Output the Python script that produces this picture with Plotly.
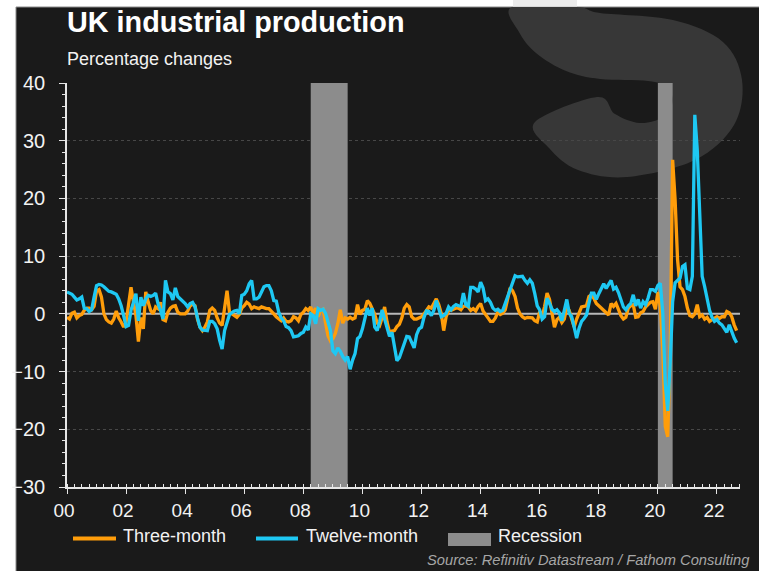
import plotly.graph_objects as go

# ---------------- data (monthly, from Jan 2000) ----------------
START_YEAR = 2000

three_month = [
    -0.6, -0.9, 0.1, 0.3, -0.7, -0.3, -0.1, 0.6, 1.0, 1.0, 0.7, 1.3,      # 2000
    4.0, 4.2, 2.9, 0.0, -1.0, -1.4, -1.6, -0.9, 0.5, -0.7, -1.4, -2.3,    # 2001
    -1.4, 1.4, 4.6, 2.0, -0.3, -4.8, -0.6, -2.6, 3.8, 2.0, 0.6, 0.0,      # 2002
    1.2, 0.9, 2.0, -1.0, -1.2, 0.3, 1.0, 1.3, 1.4, 0.3, 0.0, 0.0,         # 2003
    0.0, 0.5, 1.4, 1.7, 1.4, -0.9, -2.3, -2.9, -2.3, -1.4, 0.6, 1.0,      # 2004
    0.6, -0.7, -1.6, -2.0, 0.6, 4.0, 0.3, 0.0, -0.3, -0.6, -0.1, 1.0,     # 2005
    1.4, 2.0, 1.7, 0.9, 1.2, 1.0, 0.9, 1.2, 1.0, 0.9, 0.9, 0.5,           # 2006
    0.0, -0.5, -0.9, -1.2, -0.7, -1.3, -1.4, -1.2, -0.5, -0.7, -1.2, -0.1,  # 2007
    0.3, 0.9, 0.6, 1.2, 0.0, 1.0, -0.5, 0.6, 0.8, -1.4, -3.8, -4.7,       # 2008
    -4.3, -3.4, -1.7, 0.7, -1.6, -0.7, -0.9, -0.6, -0.9, -0.7, 1.6, -0.1,  # 2009
    0.6, 0.8, 2.3, 1.8, 0.7, -0.1, -1.6, -2.0, -0.7, 1.2, -1.4, -3.2,     # 2010
    -3.0, -2.9, -2.2, -1.8, -0.7, 1.0, 1.6, 1.2, -0.5, -0.9, -0.9, -0.7,  # 2011
    -0.5, 0.0, 0.5, 1.2, 1.0, 1.8, 2.6, 1.6, 0.1, -2.9, -0.5, 0.6,        # 2012
    0.6, 0.8, 1.0, 1.0, 0.7, 1.3, 1.4, 1.2, 0.6, 0.9, 0.5, 1.3,           # 2013
    1.8, 0.5, 0.0, -0.7, -1.3, -1.3, -0.7, 0.3, -0.1, 0.1, 0.7, 2.6,      # 2014
    4.5, 4.0, 3.0, 1.0, 0.0, -0.5, -0.8, -0.6, -0.6, -0.7, -1.2, -1.4,    # 2015
    0.4, -0.5, 1.3, 3.6, 2.5, 0.2, -2.3, -1.0, -0.6, -1.5, -0.9, 1.2,     # 2016
    0.6, -0.9, -2.3, -0.9, 0.2, 1.2, 1.3, 1.4, 3.0, 3.3, 2.7, 1.8,        # 2017
    1.4, 1.0, 0.6, 0.2, -0.2, 1.8, 1.3, 1.8, 0.6, -0.3, -0.9, -0.6,       # 2018
    1.0, 1.4, 1.6, -0.6, -0.5, 0.2, 0.4, 1.2, 1.6, 2.0, 2.1, 0.8,         # 2019
    3.8, 1.3, -6.2, -19.5, -21.3, -7.0, 26.7, 19.8, 9.4, 4.7, 4.2, 3.0,   # 2020
    1.0, -0.3, -0.5, 0.0, 1.6, -0.5, -0.2, -0.9, -0.6, -1.3, -1.0, -0.8,  # 2021
    -0.5, -0.8, -0.5, -0.5, 0.4, 0.2, -0.5, -1.9, -2.9,                   # 2022
]

twelve_month = [
    3.8, 3.6, 3.4, 2.9, 2.4, 2.6, 2.9, 1.0, 0.9, 0.4, 0.7, 2.9,           # 2000
    4.9, 5.1, 5.0, 4.7, 4.3, 3.9, 3.8, 3.6, 3.4, 2.6, 1.4, -0.3,          # 2001
    -2.2, -2.0, 0.6, 2.0, 3.5, -1.2, 2.9, 1.4, 2.6, 3.2, 3.0, 3.2,        # 2002
    3.6, 1.7, 0.6, -0.9, 5.8, 3.8, 3.5, 2.4, 4.5, 3.0, 2.6, 2.3,          # 2003
    1.8, 1.2, 1.8, 2.0, 1.2, -0.7, -2.3, -2.8, -2.9, -2.9, -1.3, -1.3,    # 2004
    -1.7, -2.6, -4.6, -6.1, -2.9, -1.3, -0.1, 0.2, 0.5, 0.6, 0.0, 3.2,    # 2005
    3.4, 4.0, 5.2, 5.8, 2.6, 2.6, 2.9, 3.8, 4.7, 4.9, 4.9, 4.0,           # 2006
    2.3, 2.2, 0.3, -0.7, -1.2, -2.2, -2.4, -2.9, -4.0, -3.9, -3.8, -3.4,  # 2007
    -3.2, -2.3, -2.8, 0.0, -0.3, -1.7, 0.9, 0.6, 0.8, 0.1, -1.3, -2.9,    # 2008
    -6.4, -6.9, -5.9, -6.5, -7.4, -8.0, -7.4, -9.6, -8.0, -6.9, -4.3, -3.9,  # 2009
    -2.6, -0.7, 1.0, -0.3, 1.0, -2.3, -2.9, -1.3, 0.7, -0.9, -2.3, -3.9,  # 2010
    -3.2, -6.1, -8.1, -7.6, -6.4, -4.9, -3.9, -4.0, -4.9, -5.9, -3.6, -2.6,  # 2011
    -2.3, -0.6, 0.5, 0.4, -0.3, 0.6, 2.3, 0.7, -0.5, -0.3, 0.1, 1.2,      # 2012
    0.7, 1.3, 1.6, 1.4, 1.3, 3.6, 1.6, 1.3, 4.6, 4.6, 4.3, 3.8,           # 2013
    5.5, 4.5, 2.3, 2.6, 2.0, 1.0, 0.6, 0.8, 0.4, 0.6, 1.8, 3.0,           # 2014
    4.2, 5.8, 6.6, 6.4, 6.4, 6.5, 5.8, 5.3, 5.9, 5.3, 3.5, 1.4,           # 2015
    0.7, -0.9, -0.5, 2.7, 1.8, 0.8, 0.4, 0.7, 0.2, -1.2, 0.6, 2.5,        # 2016
    0.1, -0.5, -2.3, -4.2, -2.5, -1.3, -0.8, -0.2, 1.8, 3.6, 3.6, 2.5,    # 2017
    3.5, 4.3, 5.2, 4.4, 5.0, 5.8, 4.3, 4.6, 3.7, 2.3, 1.2, 0.7,           # 2018
    1.4, 1.8, 3.3, 1.4, 2.5, 1.0, 2.1, 1.6, 2.7, 4.2, 4.2, 3.9,           # 2019
    4.9, 5.3, 0.1, -12.0, -16.8, -8.6, 2.1, 5.4, 5.8, 6.2, 8.2, 8.5,      # 2020
    4.4, 4.2, 6.5, 34.5, 28.4, 15.7, 6.5, 4.7, 2.4, 0.6, -0.6, -1.3,      # 2021
    -1.0, -1.6, -1.9, -2.5, -3.2, -1.9, -3.1, -4.2, -5.0,                 # 2022
]

recession_start = [2008.25, 2020.0]
recession_end = [2009.5, 2020.5]

tick_years = list(range(2000, 2023, 2))
tick_labels = ["00", "02", "04", "06", "08", "10", "12", "14", "16", "18", "20", "22"]

series_names = ["Three-month", "Twelve-month", "Recession"]
title_text = "UK industrial production"
subtitle_text = "Percentage changes"
source_text = "Source: Refinitiv Datastream / Fathom Consulting"

# ---------------- style ----------------
ORANGE = "#FF9D0A"
BLUE = "#1EC8F3"
REC_GREY = "#8C8C8C"
BG = "#1A1A1A"
FONT = "Liberation Sans, Arial, sans-serif"

W, H = 759, 571
L, R, T, B = 67, 740, 83, 487
X_END = 2022.78


def px(x):
    return (x - L) / (R - L)


def py(y):
    return (B - y) / (B - T)


def smooth_closed_path(pts, straight_first=True):
    """Catmull-Rom smoothed closed outline, converted to paper coordinates."""
    n = len(pts)
    out = [f"M {px(pts[0][0]):.4f},{py(pts[0][1]):.4f}"]
    for i in range(n):
        p0 = pts[(i - 1) % n]
        p1 = pts[i]
        p2 = pts[(i + 1) % n]
        p3 = pts[(i + 2) % n]
        if straight_first and i == 0:
            out.append(f"L {px(p2[0]):.4f},{py(p2[1]):.4f}")
            continue
        c1 = (p1[0] + (p2[0] - p0[0]) / 6, p1[1] + (p2[1] - p0[1]) / 6)
        c2 = (p2[0] - (p3[0] - p1[0]) / 6, p2[1] - (p3[1] - p1[1]) / 6)
        out.append(f"C {px(c1[0]):.4f},{py(c1[1]):.4f} {px(c2[0]):.4f},{py(c2[1]):.4f} "
                   f"{px(p2[0]):.4f},{py(p2[1]):.4f}")
    return " ".join(out) + " Z"


months = [START_YEAR + i / 12 for i in range(len(three_month))]

fig = go.Figure()
fig.add_trace(go.Scatter(x=months, y=three_month, mode="lines", name=series_names[0],
                         line=dict(color=ORANGE, width=3.3), hoverinfo="skip"))
fig.add_trace(go.Scatter(x=months, y=twelve_month, mode="lines", name=series_names[1],
                         line=dict(color=BLUE, width=3.3), hoverinfo="skip"))

shapes = []
# dark card behind everything
shapes.append(dict(type="rect", xref="paper", yref="paper", layer="below",
                   x0=px(16), x1=px(W + 5), y0=py(7), y1=py(H + 5),
                   fillcolor=BG, line=dict(color="#8a8a8a", width=1)))
# "S" watermark
s_pts = [(512, 7), (577, 7), (600, 13), (673, 20), (723, 42), (742, 80), (734, 125),
         (695, 160), (627, 177), (578, 170), (549, 148), (535, 122), (597, 97),
         (615, 114), (640, 123), (663, 117), (673, 101), (666, 87), (648, 81),
         (600, 79), (566, 71), (536, 53), (519, 32)]
shapes.append(dict(type="path", xref="paper", yref="paper", layer="below",
                   path=smooth_closed_path(s_pts),
                   fillcolor="#373737", line=dict(width=0)))
shapes.append(dict(type="rect", xref="paper", yref="paper", layer="below",
                   x0=px(513), x1=px(577), y0=py(0), y1=py(6.5),
                   fillcolor="#ececec", line=dict(width=0)))
# zero line
shapes.append(dict(type="line", xref="x", yref="y", layer="between",
                   x0=START_YEAR, x1=X_END, y0=0, y1=0,
                   line=dict(color="#b8b8b8", width=2)))
# recessions
for s, e in zip(recession_start, recession_end):
    shapes.append(dict(type="rect", xref="x", yref="y", layer="between",
                       x0=s, x1=e, y0=-30, y1=40,
                       fillcolor=REC_GREY, line=dict(width=0)))
# manual legend keys
shapes.append(dict(type="line", xref="paper", yref="paper", x0=px(73), x1=px(116),
                   y0=py(538.5), y1=py(538.5), line=dict(color=ORANGE, width=4)))
shapes.append(dict(type="line", xref="paper", yref="paper", x0=px(256), x1=px(298),
                   y0=py(538.5), y1=py(538.5), line=dict(color=BLUE, width=4)))
shapes.append(dict(type="rect", xref="paper", yref="paper", x0=px(448), x1=px(491),
                   y0=py(546), y1=py(533), fillcolor=REC_GREY, line=dict(width=0)))

annotations = [
    dict(text="<b>" + title_text + "</b>", x=px(65), y=py(22), xref="paper", yref="paper",
         xanchor="left", yanchor="middle", showarrow=False,
         font=dict(family=FONT, size=28.8, color="#ffffff")),
    dict(text=subtitle_text, x=px(65), y=py(59), xref="paper", yref="paper",
         xanchor="left", yanchor="middle", showarrow=False,
         font=dict(family=FONT, size=18, color="#f2f2f2")),
    dict(text=series_names[0], x=px(121), y=py(536), xref="paper", yref="paper",
         xanchor="left", yanchor="middle", showarrow=False,
         font=dict(family=FONT, size=18, color="#f2f2f2")),
    dict(text=series_names[1], x=px(304), y=py(536), xref="paper", yref="paper",
         xanchor="left", yanchor="middle", showarrow=False,
         font=dict(family=FONT, size=18, color="#f2f2f2")),
    dict(text=series_names[2], x=px(496), y=py(536), xref="paper", yref="paper",
         xanchor="left", yanchor="middle", showarrow=False,
         font=dict(family=FONT, size=18, color="#f2f2f2")),
    dict(text="<i>" + source_text + "</i>", x=px(752), y=py(560), xref="paper", yref="paper",
         xanchor="right", yanchor="middle", showarrow=False,
         font=dict(family=FONT, size=14.7, color="#a6a6a6")),
]

AX = "#e6e6e6"
fig.update_layout(
    width=W, height=H,
    margin=dict(l=L, r=W - R, t=T, b=H - B, pad=0),
    paper_bgcolor="#ffffff",
    plot_bgcolor="rgba(0,0,0,0)",
    showlegend=False,
    shapes=shapes,
    annotations=annotations,
    font=dict(family=FONT, color="#f2f2f2"),
    xaxis=dict(
        range=[START_YEAR, X_END], tickmode="array", tickvals=tick_years, ticktext=tick_labels,
        ticks="outside", ticklen=5, tickwidth=1, tickcolor=AX,
        showline=True, linecolor=AX, linewidth=1.5,
        showgrid=False, zeroline=False,
        tickfont=dict(family=FONT, size=19, color="#f2f2f2"),
        ticklabelshift=-3,
        minor=dict(tickmode="linear", tick0=START_YEAR, dtick=0.25, ticks="inside",
                   ticklen=3, tickwidth=1, tickcolor=AX, showgrid=False),
        fixedrange=True,
    ),
    yaxis=dict(
        range=[-30, 40], tickmode="linear", tick0=0, dtick=10,
        ticks="outside", ticklen=6, tickwidth=1, tickcolor=AX,
        showline=True, linecolor=AX, linewidth=1.5,
        showgrid=True, gridcolor="#474747", gridwidth=1, griddash="dot",
        zeroline=False,
        tickfont=dict(family=FONT, size=20, color="#f2f2f2"),
        ticklabelstandoff=10,
        minor=dict(tickmode="linear", tick0=0, dtick=2, ticks="outside",
                   ticklen=3, tickwidth=1, tickcolor=AX, showgrid=False),
        fixedrange=True,
    ),
)

fig.write_html(
    "out.html",
    config={"displayModeBar": False},
    post_script="document.body.style.margin='0';document.body.style.overflow='hidden';",
)
